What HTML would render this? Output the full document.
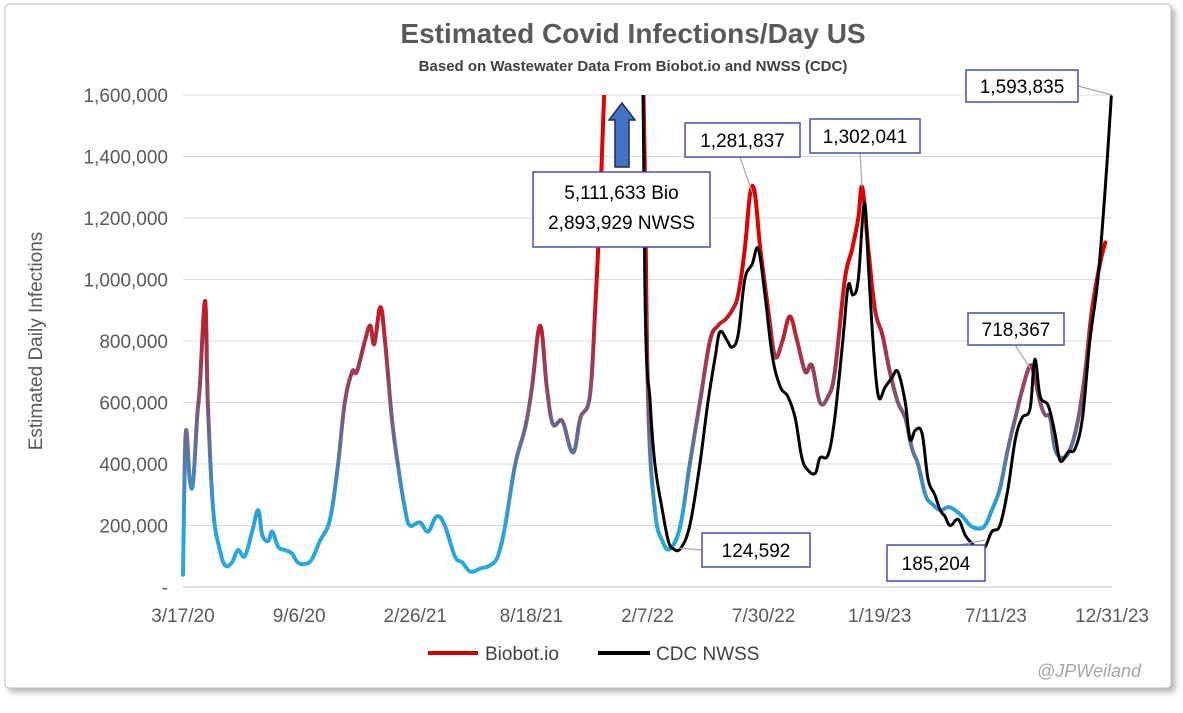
<!DOCTYPE html>
<html><head><meta charset="utf-8">
<style>
body{margin:0;background:#fff;width:1183px;height:708px;overflow:hidden;font-family:"Liberation Sans",sans-serif}
</style></head>
<body>
<svg id="chart" width="1183" height="708" xmlns="http://www.w3.org/2000/svg">
<defs>
<linearGradient id="bioGrad" gradientUnits="userSpaceOnUse" x1="0" y1="270" x2="0" y2="560">
<stop offset="0" stop-color="#e00000"/>
<stop offset="0.45" stop-color="#85506f"/>
<stop offset="0.85" stop-color="#2aa0d8"/>
<stop offset="1" stop-color="#2aa8e0"/>
</linearGradient>
<clipPath id="plotClip"><rect x="178" y="95" width="940" height="500"/></clipPath>
<filter id="sh" x="-5%" y="-5%" width="110%" height="110%"><feDropShadow dx="4" dy="4" stdDeviation="3" flood-color="#888" flood-opacity="0.6"/></filter>
</defs>
<rect x="5" y="4" width="1166" height="684" rx="4" fill="#fff" stroke="#bfbfbf" filter="url(#sh)"/>
<text x="633" y="43" text-anchor="middle" font-size="28" font-weight="bold" fill="#595959">Estimated Covid Infections/Day US</text>
<text x="633" y="71" text-anchor="middle" font-size="15" font-weight="bold" fill="#404040">Based on Wastewater Data From Biobot.io and NWSS (CDC)</text>
<text transform="translate(42,341) rotate(-90)" text-anchor="middle" font-size="19" fill="#595959">Estimated Daily Infections</text>
<g id="grid"></g><g id="yticks"></g><g id="xticks"></g>
<g clip-path="url(#plotClip)"><g id="series"></g></g>
<g id="callouts"></g>
<line x1="428" y1="653" x2="478" y2="653" stroke="#d00000" stroke-width="4"/>
<text x="485" y="660" font-size="19" fill="#404040">Biobot.io</text>
<line x1="598" y1="653" x2="650" y2="653" stroke="#000" stroke-width="4"/>
<text x="656" y="660" font-size="19" fill="#404040">CDC NWSS</text>
<text x="1141" y="677" text-anchor="end" font-size="18" font-style="italic" fill="#a6a6a6">@JPWeiland</text>
</svg>
<script>
const NS="http://www.w3.org/2000/svg";
const xTickLabels=["3/17/20","9/6/20","2/26/21","8/18/21","2/7/22","7/30/22","1/19/23","7/11/23","12/31/23"];
const xTickDays=[0,173,346,519,692,865,1038,1211,1384];
const yTicks=[0,200000,400000,600000,800000,1000000,1200000,1400000,1600000];
const bioDays=[0,4,10,15,21,25,33,37,45,55,63,73,82,92,103,112,118,127,133,142,152,162,171,182,192,204,219,231,241,252,259,271,279,285,294,301,311,320,331,338,353,365,378,390,405,416,428,443,457,469,480,495,510,520,532,542,551,565,577,584,592,606,614,624,639,659,678,687,693,703,714,726,741,755,770,785,797,808,818,827,837,845,852,860,872,882,893,904,915,927,937,949,961,971,986,997,1006,1012,1021,1031,1042,1053,1065,1076,1086,1095,1106,1116,1128,1140,1150,1161,1173,1185,1195,1205,1217,1229,1240,1250,1262,1269,1277,1284,1292,1299,1310,1322,1334,1344,1354,1366,1374];
const bioVals=[40,500,350,340,550,650,930,600,250,120,70,80,120,100,180,250,170,150,180,130,120,110,80,75,90,150,220,400,600,700,700,800,850,790,910,800,550,400,250,200,210,180,230,200,100,80,50,60,70,100,200,400,520,650,850,650,530,540,450,450,550,620,900,1400,2500,5112,2500,1500,600,250,150,125,200,400,600,800,850,870,900,950,1100,1280,1280,1100,900,750,800,880,800,700,720,600,620,700,1000,1100,1200,1300,1100,900,820,700,600,550,450,400,300,270,250,260,250,230,200,190,200,250,320,450,550,640,720,680,600,560,550,450,420,450,550,700,900,1050,1120];
const nwssDays=[681,688,696,703,714,723,730,741,755,770,782,793,800,811,818,827,837,848,857,867,878,890,901,912,922,931,942,949,961,971,983,991,998,1006,1015,1021,1028,1036,1046,1056,1065,1076,1083,1091,1101,1110,1120,1128,1135,1143,1155,1165,1176,1185,1195,1205,1217,1229,1240,1250,1262,1269,1277,1289,1299,1307,1319,1329,1340,1351,1363,1374,1383];
const nwssVals=[2894,1000,600,400,250,150,125,125,200,400,600,750,830,800,780,820,1000,1050,1100,950,750,650,620,550,420,380,370,420,430,550,800,980,950,1000,1250,1050,800,620,650,680,700,600,480,510,500,350,300,250,230,200,220,170,140,120,130,180,200,320,480,550,580,740,620,590,500,410,440,450,550,800,1000,1300,1594];
const X=d=>183+d*(929/1384);
const Y=v=>587-v/1600000*492;
function mk(tag,attrs,parent,text){const e=document.createElementNS(NS,tag);for(const k in attrs)e.setAttribute(k,attrs[k]);if(text!==undefined)e.textContent=text;document.getElementById(parent).appendChild(e);return e;}
yTicks.forEach((v,i)=>{
  if(v>0){const g=mk('line',{x1:183,x2:1112,y1:Y(v),y2:Y(v),stroke:'#d9d9d9','stroke-width':1},'grid');
  
  }
  const t=mk('text',{x:168,y:Y(v)+7,'text-anchor':'end','font-size':19,fill:'#595959'},'yticks',v===0?'-':v.toLocaleString('en-US'));
  
  
});
const ax=mk('line',{x1:183,x2:1112,y1:Y(0),y2:Y(0),stroke:'#bfbfbf','stroke-width':1},'grid');


xTickLabels.forEach((l,i)=>{
  const t=mk('text',{x:X(xTickDays[i]),y:622,'text-anchor':'middle','font-size':19,fill:'#595959'},'xticks',l);
  
  
});
function smooth(d,v){
  const p=d.map((dd,i)=>[X(dd),Y(v[i]*1000)]);
  let s='M'+p[0][0].toFixed(1)+','+p[0][1].toFixed(1);
  for(let i=0;i<p.length-1;i++){
    const p0=p[i-1]||p[i],p1=p[i],p2=p[i+1],p3=p[i+2]||p[i+1];
    const t=0.18;
    const c1=[p1[0]+(p2[0]-p0[0])*t,p1[1]+(p2[1]-p0[1])*t];
    const c2=[p2[0]-(p3[0]-p1[0])*t,p2[1]-(p3[1]-p1[1])*t];
    s+=' C'+c1[0].toFixed(1)+','+c1[1].toFixed(1)+' '+c2[0].toFixed(1)+','+c2[1].toFixed(1)+' '+p2[0].toFixed(1)+','+p2[1].toFixed(1);
  }
  return s;
}
const bio=mk('path',{d:smooth(bioDays,bioVals),fill:'none',stroke:'url(#bioGrad)','stroke-width':4,'stroke-linejoin':'round','stroke-linecap':'round'},'series');


const nw=mk('path',{d:smooth(nwssDays,nwssVals),fill:'none',stroke:'#000','stroke-width':3,'stroke-linejoin':'round','stroke-linecap':'round'},'series');


const callouts=[
 {name:'callout-latest',x:966,y:70,w:112,h:32,lines:['1,593,835'],lx:1078,ly:86,px:1112,py:95},
 {name:'callout-summer22',x:685,y:123,w:115,h:34,lines:['1,281,837'],lx:740,ly:157,px:752,py:192},
 {name:'callout-winter22',x:810,y:119,w:110,h:34,lines:['1,302,041'],lx:860,ly:153,px:862,py:187},
 {name:'callout-omicron',x:533,y:172,w:177,h:75,lines:['5,111,633 Bio','2,893,929 NWSS']},
 {name:'callout-low22',x:702,y:533,w:108,h:34,lines:['124,592'],lx:702,ly:550,px:678,py:548},
 {name:'callout-low23',x:887,y:545,w:98,h:36,lines:['185,204'],lx:960,ly:545,px:985,py:540},
 {name:'callout-fall23',x:968,y:313,w:96,h:32,lines:['718,367'],lx:1015,ly:345,px:1030,py:368}
];
callouts.forEach(c=>{
  if(c.lx!==undefined){const l=mk('line',{x1:c.lx,y1:c.ly,x2:c.px,y2:c.py,stroke:'#a6a6a6','stroke-width':1.2},'callouts');
  
  }
  const r=mk('rect',{x:c.x,y:c.y,width:c.w,height:c.h,fill:'#fff',stroke:'#4b4bb8','stroke-width':1.5},'callouts');
  
  
  c.lines.forEach((s,i)=>{
    const t=mk('text',{x:c.x+c.w/2,y:c.y+(c.lines.length===1?c.h/2+7:27+i*30),'text-anchor':'middle','font-size':19,fill:'#000'},'callouts',s);
    
    
  });
});
const arr=mk('polygon',{points:'615,167 629,167 629,120 635,120 622,103 609,120 615,120',fill:'#4472c4',stroke:'#1f2d4f','stroke-width':1.5},'callouts');


</script>
</body></html>
